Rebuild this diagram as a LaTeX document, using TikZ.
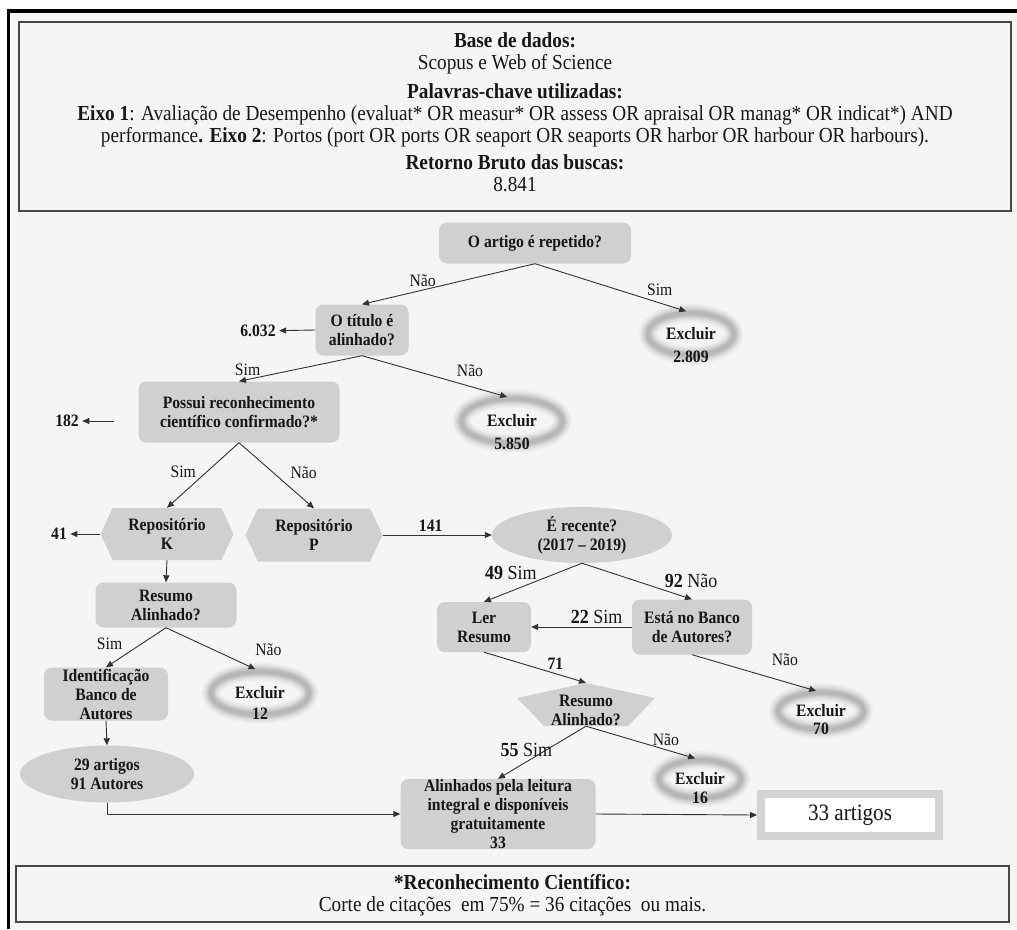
\documentclass[tikz,border=0pt]{standalone}
\usepackage{fontspec}
\setmainfont{Liberation Serif}[FakeStretch=0.9]
\usepackage{tikz}
\usetikzlibrary{shapes.geometric,shapes.symbols,arrows.meta,positioning,calc}
\usepackage{xcolor}
\definecolor{pagebg}{RGB}{245,245,245}
\definecolor{boxgray}{RGB}{208,207,209}
\definecolor{linegray}{RGB}{50,50,50}
\definecolor{ringgray}{RGB}{125,125,125}
\definecolor{finalgray}{RGB}{212,212,212}
\definecolor{inkcolor}{RGB}{22,22,22}

\newcommand{\flowfont}{\fontsize{17.4}{19}\selectfont}
\newcommand{\bigfont}{\fontsize{20}{22}\selectfont}
\newcommand{\notefont}{\fontsize{21.4}{22}\selectfont}

\begin{document}
\begin{tikzpicture}[
    x=1pt, y=-1pt,
    >={Triangle[length=7pt,width=6pt]},
    font=\flowfont, text=inkcolor,
    decision/.style={rectangle, rounded corners=8pt, fill=boxgray, align=center, inner sep=0pt, font=\flowfont\bfseries},
    hexa/.style={signal, signal to=west and east, signal pointer angle=130, fill=boxgray, align=center, inner sep=0pt, font=\flowfont\bfseries},
    oval/.style={ellipse, fill=boxgray, align=center, inner sep=0pt, font=\flowfont\bfseries},
    roofbox/.style={rectangle, align=center, inner sep=0pt, font=\flowfont\bfseries,
        path picture={\fill[boxgray] (path picture bounding box.north)
            -- ([yshift=-15pt]path picture bounding box.north east)
            -- ([xshift=-27pt,yshift=11pt]path picture bounding box.south east)
            -- ([xshift=27pt,yshift=11pt]path picture bounding box.south west)
            -- ([yshift=-15pt]path picture bounding box.north west) -- cycle;}},
    excl/.style={ellipse, inner sep=0pt, font=\flowfont\bfseries,
        preaction={draw=ringgray, line width=18pt, draw opacity=0.07},
        preaction={draw=ringgray, line width=14pt, draw opacity=0.11},
        preaction={draw=ringgray, line width=10pt, draw opacity=0.14},
        preaction={draw=ringgray, line width=7pt, draw opacity=0.16},
        preaction={draw=ringgray, line width=4pt, draw opacity=0.16}},
    exclnum/.style={inner sep=0pt, font=\flowfont\bfseries},
    count/.style={font=\flowfont\bfseries},
    lbl/.style={font=\flowfont},
    biglbl/.style={font=\bigfont},
    flow/.style={->, draw=linegray, line width=0.9pt},
    toexcl/.style={flow, shorten >=5pt},
    infobox/.style={rectangle, draw=black!72, line width=1.5pt},
    notetext/.style={align=center, inner sep=0pt, font=\notefont},
    finalbox/.style={rectangle, draw=finalgray, line width=8pt, fill=white, font=\fontsize{23.5}{25}\selectfont},
]
    \useasboundingbox (0,0) rectangle (1017,929);
    \fill[white] (0,0) rectangle (1017,929);
    \fill[pagebg] (8,10) rectangle (1017,929);
    \draw[line width=3.5pt] (1017,11) -- (8.7,11) -- (8.7,929);

    % Bases e palavras-chave
    \node[infobox, minimum width=992pt, minimum height=189pt] (bases) at (515,116.5) {};
    \node[notetext] (basesTexto) at (515,112) {
        \textbf{Base de dados:}\\
        Scopus e Web of Science\\[7pt]
        \textbf{Palavras-chave utilizadas:}\\
        \textbf{Eixo 1}: Avaliação de Desempenho (evaluat* OR measur* OR assess OR apraisal OR manag* OR indicat*) AND\\
        performance\textbf{. Eixo 2}: Portos (port OR ports OR seaport OR seaports OR harbor OR harbour OR harbours).\\[5pt]
        \textbf{Retorno Bruto das buscas:}\\
        8.841
    };

    % Triagem inicial
    \node[decision, minimum width=192pt, minimum height=41pt] (repetido) at (535,243) {O artigo é repetido?};
    \node[decision, minimum width=93pt, minimum height=51pt] (titulo) at (362,330) {O título é\\alinhado?};
    \node[excl, minimum width=86pt, minimum height=42pt] (excl2809) at (691,334) {Excluir};
    \node[exclnum, below=11pt of excl2809.base] (excl2809n) {2.809};
    \node[count] (n6032) at (258,331) {6.032};
    \node[decision, minimum width=201pt, minimum height=61pt] (possui) at (239,412) {Possui reconhecimento\\científico confirmado?*};
    \node[excl, minimum width=101pt, minimum height=45pt] (excl5850) at (512,421) {Excluir};
    \node[exclnum, below=11pt of excl5850.base] (excl5850n) {5.850};
    \node[count] (n182) at (67,421) {182};
    \coordinate (p182) at (114,421);

    % Repositorios
    \node[hexa, minimum width=133pt, minimum height=52pt] (repK) at (167,534) {Repositório\\K};
    \node[hexa, minimum width=137pt, minimum height=53pt] (repP) at (314,535) {Repositório\\P};
    \node[count] (n41) at (59,534) {41};
    \node[oval, minimum width=180pt, minimum height=56pt] (recente) at (582,535) {É recente?\\(2017 – 2019)};

    % Ramo K
    \node[decision, minimum width=141pt, minimum height=45pt] (resumoK) at (166,605) {Resumo\\Alinhado?};
    \node[decision, minimum width=124pt, minimum height=53pt] (identif) at (106,694) {Identificação\\Banco de\\Autores};
    \node[excl, minimum width=98pt, minimum height=43pt] (excl12) at (260,693) {Excluir};
    \node[exclnum, below=9pt of excl12.base] (excl12n) {12};
    \node[oval, minimum width=174pt, minimum height=57pt] (autores29) at (107,774) {29 artigos\\91 Autores};

    % Ramo P
    \node[decision, minimum width=94pt, minimum height=50pt] (lerResumo) at (484,627) {Ler\\Resumo};
    \node[decision, minimum width=120pt, minimum height=55pt] (bancoAut) at (692,627) {Está no Banco\\de Autores?};
    \node[excl, minimum width=86pt, minimum height=37pt] (excl70) at (821,711) {Excluir};
    \node[exclnum, below=6pt of excl70.base] (excl70n) {70};
    \node[roofbox, minimum width=138pt, minimum height=54pt] (resumoP) at (586,710) {Resumo\\Alinhado?};
    \node[excl, minimum width=82pt, minimum height=38pt] (excl16) at (700,779) {Excluir};
    \node[exclnum, below=7pt of excl16.base] (excl16n) {16};

    % Resultado
    \node[decision, minimum width=195pt, minimum height=70pt] (alinhados) at (498,814) {Alinhados pela leitura\\integral e disponíveis\\gratuitamente\\33};
    \node[finalbox, minimum width=178pt, minimum height=42pt] (final33) at (850,815) {33 artigos};

    % Nota
    \node[infobox, minimum width=993pt, minimum height=56pt] (nota) at (512.5,894) {};
    \node[notetext] (notaTexto) at (512.5,895) {\textbf{*Reconhecimento Científico:}\\Corte de citações\ \ em 75\% = 36 citações\ \ ou mais.};

    % Ligacoes
    \draw[flow] (repetido.south) -- node[lbl, pos=0.65, above] {Não} (titulo.north);
    \draw[toexcl] (repetido.south) -- node[lbl, pos=0.8, above=4pt] {Sim} (excl2809.north);
    \draw[flow] (titulo.west) -- (n6032);
    \draw[flow] (titulo.south) -- node[lbl, pos=0.93, above] {Sim} (possui.north);
    \draw[toexcl] (titulo.south) -- node[lbl, pos=0.72, above=6pt] {Não} (excl5850.north);
    \draw[flow] (p182) -- (n182);
    \draw[flow] (possui.south) -- node[lbl, pos=0.45, left=7pt] {Sim} (repK.north);
    \draw[flow] (possui.south) -- node[lbl, pos=0.45, right=14pt] {Não} (repP.north);
    \draw[flow] (repK.west) -- (n41);
    \draw[flow] (repP.east) -- node[count, pos=0.44, above] {141} (recente.west);
    \draw[flow] (repK.south) -- (resumoK.north);
    \draw[flow] (resumoK.south) -- node[lbl, pos=0.4, left=16pt] {Sim} (identif.north);
    \draw[toexcl] (resumoK.south) -- node[lbl, pos=0.85, above right=8pt] {Não} (excl12.north);
    \draw[flow] (identif.south) -- (autores29.north);
    \draw[flow] (autores29.south) |- (alinhados.west);
    \draw[flow] (recente.south) -- node[biglbl, pos=0.25, left=17pt] {\textbf{49} Sim} (lerResumo.north);
    \draw[flow] (recente.south) -- node[biglbl, pos=0.5, right=24pt] {\textbf{92} Não} (bancoAut.north);
    \draw[flow] (bancoAut.west) -- node[biglbl, pos=0.35, above] {\textbf{22} Sim} (lerResumo.east);
    \draw[toexcl] (bancoAut.south) -- node[lbl, pos=0.72, above=12pt] {Não} (excl70.north);
    \draw[flow] (lerResumo.south) -- node[count, pos=0.7, above] {71} (resumoP.north);
    \draw[flow] ([yshift=11pt]resumoP.south) -- node[biglbl, pos=0.45, xshift=-20pt] {\textbf{55} Sim} (alinhados.north);
    \draw[toexcl] ([yshift=11pt]resumoP.south) -- node[lbl, pos=0.7, above=0pt] {Não} (excl16.north);
    \draw[flow] (alinhados.east) -- (final33.west);
\end{tikzpicture}
\end{document}
